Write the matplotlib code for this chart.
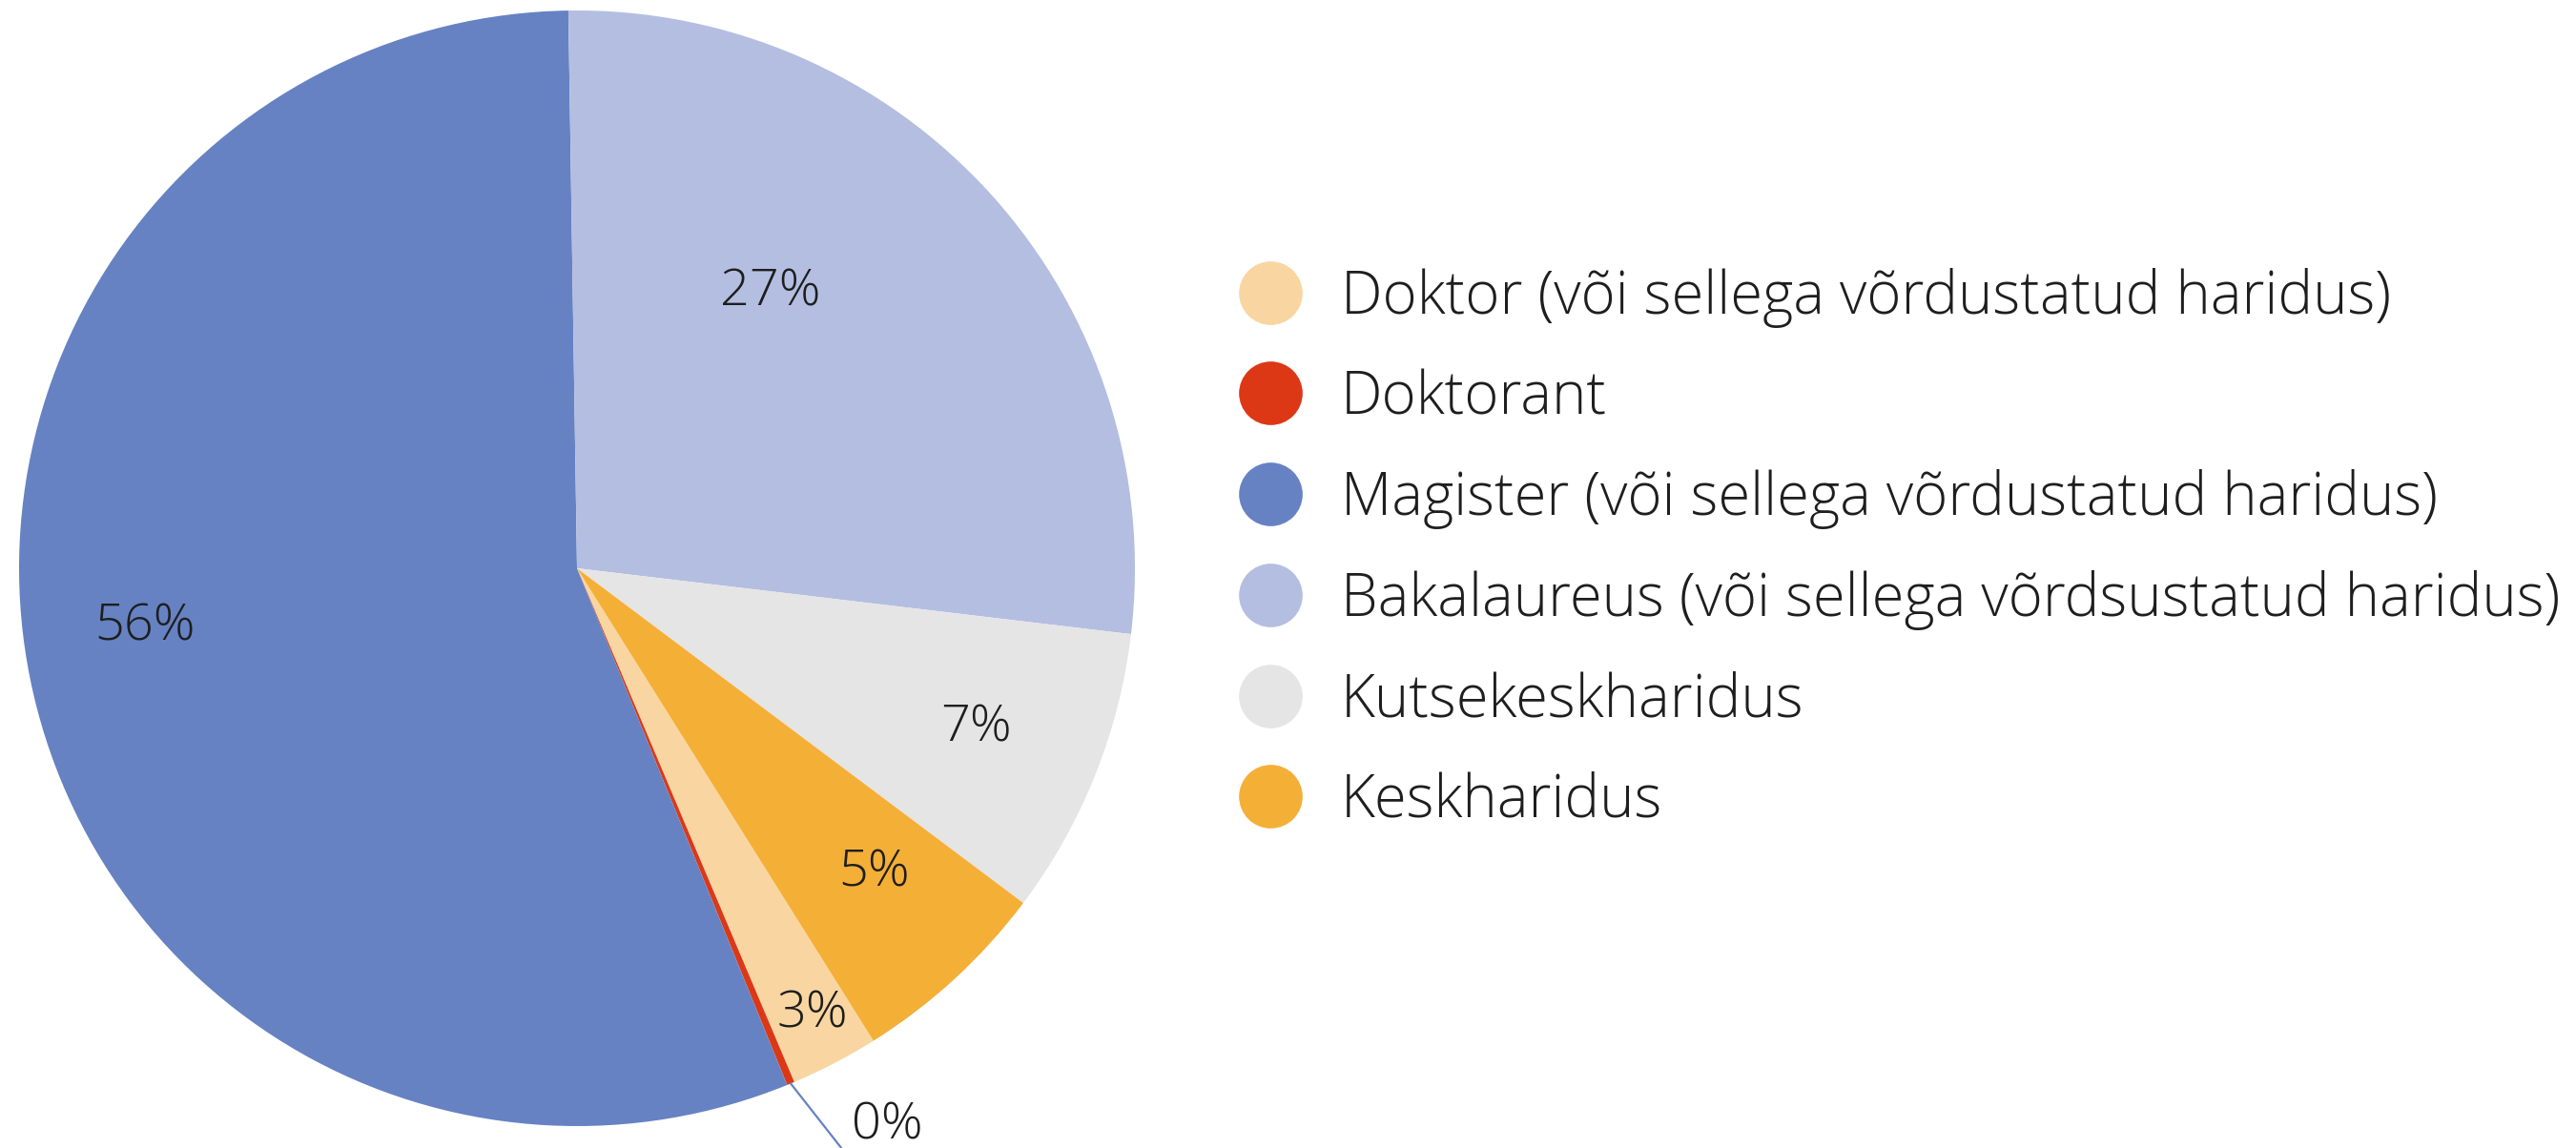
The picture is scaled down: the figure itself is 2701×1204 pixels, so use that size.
import numpy as np
import matplotlib
matplotlib.use("Agg")
import matplotlib.pyplot as plt
from matplotlib.lines import Line2D

# data, clockwise from the first slice (same order as the legend)
categories = [
    "Doktor (või sellega võrdustatud haridus)",
    "Doktorant",
    "Magister (või sellega võrdustatud haridus)",
    "Bakalaureus (või sellega võrdsustatud haridus)",
    "Kutsekeskharidus",
    "Keskharidus",
]
shares = [2.55, 0.22, 55.9, 27.13, 8.36, 5.84]
pct_labels = ["3%", "0%", "56%", "27%", "7%", "5%"]
colors = ["#F9D6A1", "#DC3816", "#6682C3", "#B3BEE1", "#E5E5E5", "#F4AF37"]

plt.rcParams["font.family"] = ["Open Sans", "DejaVu Sans"]
FS = 44.4
TXT = "#1e1e1e"

W, H = 2701, 1204
R = 585.0          # pie radius in pixels
cx, cy = 605, 596  # pie centre in pixels, from top-left

fig = plt.figure(figsize=(W / 100, H / 100), dpi=100)
ax = fig.add_axes([0, 0, 1, 1])

wedges, _ = ax.pie(shares, colors=colors, startangle=90 - 147.9,
                   counterclock=False, radius=1.0, center=(0, 0),
                   wedgeprops=dict(linewidth=0))

ax.set_xlim(-cx / R, (W - cx) / R)
ax.set_ylim(-(H - cy) / R, cy / R)
ax.set_aspect("auto")
ax.axis("off")

# label offsets (in radii) where the source chart put them ("best fit")
label_pos = [(0.422, -0.799), (0.556, -1.0), (-0.774, -0.105),
             (0.347, 0.495), (0.716, -0.287), (0.532, -0.547)]
for w, txt, (lx, ly) in zip(wedges, pct_labels, label_pos):
    ax.text(lx, ly, txt, ha="center", va="center", fontsize=39,
            fontweight="light", color=TXT, clip_on=False)

# leader line for the tiny slice
w = wedges[1]
mid = np.deg2rad((w.theta1 + w.theta2) / 2)
ax.plot([np.cos(mid), 0.49], [np.sin(mid), -1.06], color="#6682C3",
        lw=1.6, clip_on=False)

handles = [Line2D([0], [0], marker="o", linestyle="none", markersize=48,
                  markerfacecolor=c, markeredgewidth=0) for c in colors]
leg = ax.legend(handles, categories, loc="upper left",
                bbox_to_anchor=(1273 / W, 1 - 256 / H), frameon=False,
                fontsize=FS, labelspacing=0.695, handletextpad=0.66,
                handlelength=1.1, borderaxespad=0)
for t in leg.get_texts():
    t.set_color(TXT)
    t.set_fontweight("light")

fig.savefig("out.png", dpi=100)
